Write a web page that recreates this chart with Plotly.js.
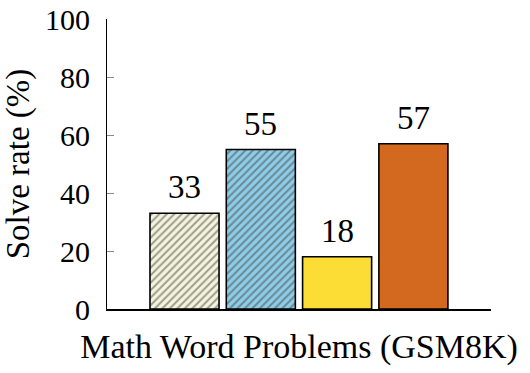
<!DOCTYPE html>
<html>
<head>
<meta charset="utf-8">
<script src="https://cdn.plot.ly/plotly-3.0.1.min.js"></script>
<style>html,body{margin:0;padding:0;background:#fff;}#chart{width:530px;height:373px;}</style>
</head>
<body>
<div id="chart"></div>
<script>
const categoryLabel = "Math Word Problems (GSM8K)";
const barIndex = [0, 1, 2, 3];
const barValues = [33, 55, 18, 57];
const barColors = ["#f5f5dd", "#8ecde8", "#fcdd36", "#d2691e"];
const barHatch = ["/", "/", "", ""];
const yTicks = [0, 20, 40, 60, 80, 100];

const FONT = "'Liberation Serif', 'Times New Roman', Times, 'DejaVu Serif', serif";

const trace = {
  type: "bar",
  x: barIndex,
  y: barValues,
  marker: {
    color: barColors,
    line: {color: "#000", width: 1.6},
    pattern: {shape: barHatch, fgcolor: "#000", bgcolor: barColors, size: 5.3, solidity: 0.38, fillmode: "overlay"}
  },
  hoverinfo: "skip"
};

const annotations = barIndex.map((xi, i) => ({
  x: xi, y: barValues[i], xref: "x", yref: "y",
  text: String(barValues[i]),
  showarrow: false, xanchor: "center", yanchor: "bottom", yshift: 6,
  font: {family: FONT, size: 33, color: "#000"}
}));

const layout = {
  width: 530, height: 373,
  margin: {l: 107, r: 39, t: 19, b: 64},
  paper_bgcolor: "#fff", plot_bgcolor: "#fff",
  font: {family: FONT, size: 32, color: "#000"},
  showlegend: false,
  bargap: 0.095,
  xaxis: {
    range: [-1.016, 4.017],
    showticklabels: false,
    ticks: "",
    showgrid: false,
    zeroline: false,
    showline: true,
    linecolor: "#000",
    linewidth: 2,
    automargin: false,
    title: {text: categoryLabel, font: {family: FONT, size: 34, color: "#000"}, standoff: 24},
    fixedrange: true
  },
  yaxis: {
    range: [0, 100],
    tickvals: yTicks,
    ticktext: yTicks.map(String),
    ticks: "inside",
    ticklen: 7,
    tickcolor: "#888",
    tickwidth: 1,
    ticklabelstandoff: 10,
    ticklabeloverflow: "allow",
    tickfont: {family: FONT, size: 30, color: "#000"},
    showgrid: false,
    zeroline: false,
    showline: true,
    linecolor: "#000",
    linewidth: 1,
    automargin: false,
    title: {text: "Solve rate (%)", font: {family: FONT, size: 33, color: "#000"}, standoff: 8},
    fixedrange: true
  },
  annotations: annotations
};

Plotly.newPlot("chart", [trace], layout, {displayModeBar: false, staticPlot: true});
</script>
</body>
</html>
